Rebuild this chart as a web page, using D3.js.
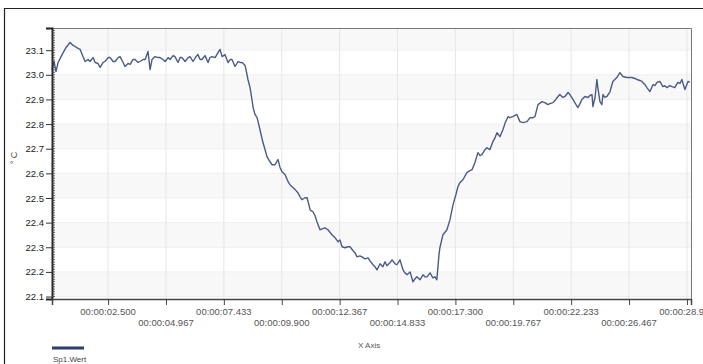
<!DOCTYPE html>
<html lang="de">
<head>
<meta charset="UTF-8">
<title>Sp1.Wert</title>
<script src="https://d3js.org/d3.v7.min.js"></script>
<style>
  body { margin: 0; background: #fff; }
  svg text { font-family: "Liberation Sans", Arial, sans-serif; }
  .ylab text { font-size: 9.5px; fill: #222; }
  .xlab { font-size: 9.5px; fill: #555; }
</style>
</head>
<body>
<svg width="703" height="364"></svg>
<script>
// time in seconds
const times = [0.11,0.20,0.28,0.37,0.54,0.71,0.88,1.01,1.09,1.22,1.31,1.43,1.52,1.65,1.73,1.86,1.95,2.07,2.16,2.29,2.37,2.50,2.59,2.71,2.80,2.93,3.01,3.14,3.22,3.35,3.44,3.56,3.65,3.78,3.86,3.99,4.08,4.20,4.29,4.37,4.50,4.63,4.71,4.84,4.93,5.06,5.14,5.27,5.35,5.48,5.57,5.65,5.78,5.91,5.99,6.12,6.25,6.33,6.42,6.50,6.63,6.76,6.84,6.93,7.06,7.19,7.27,7.36,7.48,7.61,7.70,7.78,7.91,8.04,8.12,8.21,8.34,8.46,8.55,8.63,8.68,8.76,8.85,8.97,9.10,9.19,9.27,9.40,9.49,9.61,9.74,9.83,9.91,10.04,10.17,10.25,10.34,10.47,10.59,10.68,10.76,10.89,10.98,11.11,11.23,11.32,11.40,11.53,11.62,11.74,11.87,12.04,12.17,12.30,12.38,12.47,12.60,12.72,12.81,12.94,13.02,13.11,13.23,13.32,13.45,13.58,13.66,13.79,13.87,13.96,14.09,14.21,14.30,14.38,14.51,14.60,14.73,14.81,14.94,15.07,15.15,15.24,15.37,15.49,15.58,15.66,15.79,15.92,16.00,16.09,16.22,16.34,16.43,16.51,16.60,16.64,16.77,16.94,17.07,17.20,17.32,17.41,17.49,17.62,17.79,17.92,18.01,18.13,18.26,18.35,18.43,18.56,18.64,18.77,18.90,18.99,19.07,19.20,19.33,19.41,19.54,19.62,19.75,19.92,20.05,20.18,20.35,20.48,20.60,20.69,20.82,20.99,21.11,21.24,21.33,21.46,21.58,21.67,21.75,21.88,21.97,22.10,22.18,22.31,22.39,22.52,22.61,22.69,22.82,22.95,23.03,23.12,23.16,23.25,23.33,23.37,23.46,23.54,23.59,23.67,23.76,23.89,24.01,24.18,24.31,24.44,24.61,24.74,24.82,24.95,25.04,25.16,25.25,25.38,25.46,25.59,25.72,25.80,25.89,26.02,26.14,26.23,26.31,26.44,26.53,26.65,26.78,26.87,26.95,27.08,27.21,27.29];
// Sp1.Wert, °C
const wert = [23.021,23.054,23.013,23.050,23.082,23.111,23.131,23.119,23.115,23.107,23.103,23.074,23.054,23.062,23.054,23.070,23.050,23.046,23.030,23.050,23.054,23.070,23.070,23.054,23.054,23.070,23.074,23.050,23.034,23.046,23.042,23.062,23.062,23.050,23.054,23.062,23.062,23.095,23.021,23.062,23.074,23.070,23.070,23.062,23.054,23.070,23.062,23.078,23.074,23.050,23.070,23.070,23.054,23.070,23.074,23.054,23.074,23.082,23.062,23.062,23.078,23.050,23.070,23.074,23.070,23.091,23.103,23.074,23.082,23.050,23.062,23.062,23.034,23.054,23.050,23.050,23.038,22.981,22.948,22.900,22.867,22.839,22.826,22.778,22.725,22.696,22.668,22.647,22.635,22.635,22.656,22.623,22.607,22.595,22.566,22.554,22.546,22.534,22.521,22.505,22.493,22.501,22.501,22.452,22.444,22.428,22.404,22.371,22.375,22.379,22.371,22.351,22.339,22.322,22.330,22.302,22.298,22.302,22.302,22.286,22.278,22.261,22.265,22.261,22.253,22.257,22.245,22.229,22.221,22.208,22.233,22.221,22.241,22.225,22.237,22.249,22.233,22.229,22.249,22.208,22.196,22.188,22.200,22.160,22.172,22.180,22.168,22.188,22.180,22.180,22.196,22.176,22.180,22.168,22.269,22.298,22.351,22.371,22.412,22.473,22.513,22.546,22.562,22.574,22.603,22.611,22.615,22.643,22.684,22.672,22.676,22.696,22.704,22.696,22.729,22.745,22.765,22.749,22.778,22.802,22.830,22.826,22.830,22.839,22.810,22.806,22.810,22.826,22.826,22.830,22.879,22.891,22.887,22.879,22.883,22.887,22.900,22.912,22.920,22.908,22.912,22.928,22.920,22.900,22.887,22.867,22.883,22.900,22.912,22.908,22.916,22.920,22.871,22.908,22.981,22.948,22.891,22.879,22.920,22.908,22.912,22.932,22.973,22.989,23.009,22.993,22.989,22.989,22.989,22.985,22.981,22.977,22.973,22.960,22.948,22.932,22.960,22.956,22.969,22.973,22.952,22.956,22.948,22.956,22.952,22.948,22.969,22.965,22.981,22.940,22.973,22.969];

const xTicks = [2.5, 4.967, 7.433, 9.9, 12.367, 14.833, 17.3, 19.767, 22.233, 24.7, 27.167];
const xTickLabels = ["00:00:02.500","00:00:04.967","00:00:07.433","00:00:09.900","00:00:12.367","00:00:14.833","00:00:17.300","00:00:19.767","00:00:22.233","00:00:26.467","00:00:28.900"];
const yTicks = [22.1,22.2,22.3,22.4,22.5,22.6,22.7,22.8,22.9,23.0,23.1];

const svg = d3.select("svg");
const L = 52, R = 691, T = 28, B = 299;

const x = d3.scaleLinear().domain([0.11, 27.34]).range([L, R]);
const y = d3.scaleLinear().domain([22.09, 23.19]).range([B, T]);

// outer frame
svg.append("path").attr("d", "M4.5,364V8.5H703").attr("fill", "none").attr("stroke", "#222").attr("stroke-width", 1.2);

// alternating bands (very faint)
const bands = yTicks.map((v, i) => [v, i + 1 < yTicks.length ? yTicks[i + 1] : 23.19]).filter((d, i) => i % 2 === 0);
svg.append("g").selectAll("rect").data(bands).join("rect")
  .attr("x", L).attr("width", R - L)
  .attr("y", d => y(d[1])).attr("height", d => y(d[0]) - y(d[1]))
  .attr("fill", "#f8f8f8");

// grid
svg.append("g").selectAll("line").data(yTicks).join("line")
  .attr("x1", L).attr("x2", R).attr("y1", d => y(d)).attr("y2", d => y(d))
  .attr("stroke", "#efefef");
svg.append("g").selectAll("line").data(xTicks).join("line")
  .attr("x1", d => x(d)).attr("x2", d => x(d)).attr("y1", T).attr("y2", B)
  .attr("stroke", "#e6e6e6");

// plot frame top/right
svg.append("path").attr("d", `M${L},${T + 0.5}H${R + 0.5}V${B}`).attr("fill", "none").attr("stroke", "#777");

// series
svg.append("path")
  .datum(d3.zip(times, wert))
  .attr("fill", "none")
  .attr("stroke", "#4b5b88")
  .attr("stroke-width", 1.4)
  .attr("stroke-linejoin", "round")
  .attr("d", d3.line().x(d => x(d[0])).y(d => y(d[1])));

// y axis
const yAxis = svg.append("g").attr("class", "ylab").attr("transform", `translate(${L},0)`)
  .call(d3.axisLeft(y).tickValues(yTicks).tickFormat(d3.format(".1f")).tickSize(6).tickPadding(2));
yAxis.select(".domain").attr("stroke", "#222").attr("stroke-width", 2);
yAxis.selectAll(".tick line").attr("stroke", "#333");
// minor ticks every 0.01
svg.append("g").selectAll("line").data(d3.range(2210, 2319).map(v => v / 100))
  .join("line")
  .attr("x1", L).attr("x2", L + 3).attr("y1", d => y(d)).attr("y2", d => y(d))
  .attr("stroke", "#444").attr("stroke-width", 0.8);

// x axis
const xAxis = svg.append("g").attr("transform", `translate(0,${B})`)
  .call(d3.axisBottom(x).tickValues(xTicks).tickFormat("").tickSize(6));
xAxis.select(".domain").attr("stroke", "#444").attr("stroke-width", 1.5);
xAxis.selectAll(".tick line").attr("stroke", "#444");
svg.append("g").selectAll("text").data(xTicks).join("text")
  .attr("class", "xlab")
  .attr("x", d => x(d))
  .attr("y", (d, i) => i % 2 === 0 ? 315 : 326)
  .attr("text-anchor", "middle")
  .text((d, i) => xTickLabels[i]);

// axis titles
svg.append("text").attr("transform", "translate(17,158) rotate(-90)")
  .attr("text-anchor", "middle").attr("font-size", 9).attr("fill", "#444").text("° C");
svg.append("text").attr("x", 358).attr("y", 348)
  .attr("font-size", 8).attr("fill", "#555").text("X Axis");

// legend
svg.append("line").attr("x1", 52).attr("x2", 84).attr("y1", 348).attr("y2", 348)
  .attr("stroke", "#2e3b6e").attr("stroke-width", 3);
svg.append("text").attr("x", 53).attr("y", 362)
  .attr("font-size", 8).attr("fill", "#444").text("Sp1.Wert");
</script>
</body>
</html>
